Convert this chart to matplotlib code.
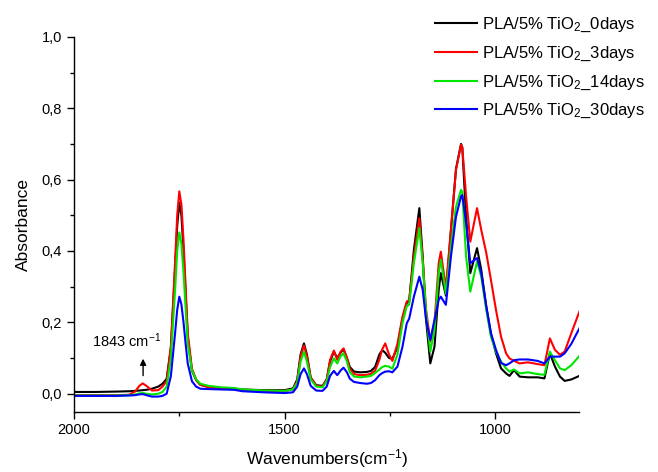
import matplotlib
matplotlib.use("Agg")
import matplotlib.pyplot as plt
from matplotlib.ticker import MultipleLocator, FuncFormatter

plt.rcParams['font.family'] = ['Liberation Sans', 'DejaVu Sans']
plt.rcParams['mathtext.fontset'] = 'custom'
plt.rcParams['mathtext.rm'] = 'Liberation Sans'
plt.rcParams['mathtext.it'] = 'Liberation Sans:italic'

# FTIR spectra of PLA/5% TiO2 after degradation
wavenumber = [2000, 1950, 1900, 1870, 1855, 1845, 1837, 1828, 1815, 1800, 1790, 1780,
              1770, 1760, 1755, 1750, 1745, 1740, 1735, 1730, 1720, 1710, 1700, 1680,
              1650, 1620, 1600, 1550, 1500, 1480, 1470, 1462, 1454, 1447, 1438, 1425,
              1410, 1400, 1392, 1383, 1375, 1367, 1360, 1352, 1345, 1335, 1320, 1305,
              1295, 1285, 1275, 1268, 1261, 1252, 1244, 1232, 1220, 1210, 1204, 1193,
              1180, 1172, 1164, 1154, 1144, 1134, 1129, 1117, 1105, 1093, 1081, 1078,
              1069, 1059, 1043, 1033, 1021, 1010, 998, 986, 974, 966, 955, 942,
              922, 899, 883, 870, 858, 846, 835, 819, 800]

abs_0d = [0.005, 0.005, 0.006, 0.007, 0.008, 0.009, 0.010, 0.011, 0.014, 0.020, 0.028, 0.042,
          0.13, 0.35, 0.47, 0.535, 0.50, 0.40, 0.28, 0.16, 0.065, 0.038, 0.025, 0.019,
          0.016, 0.014, 0.012, 0.010, 0.010, 0.015, 0.04, 0.11, 0.141, 0.11, 0.045, 0.024,
          0.022, 0.04, 0.09, 0.118, 0.10, 0.115, 0.125, 0.10, 0.075, 0.062, 0.060, 0.061,
          0.064, 0.075, 0.11, 0.122, 0.115, 0.10, 0.098, 0.13, 0.21, 0.254, 0.26, 0.403,
          0.52, 0.384, 0.207, 0.085, 0.132, 0.291, 0.338, 0.275, 0.459, 0.63, 0.700, 0.69,
          0.496, 0.338, 0.408, 0.347, 0.244, 0.169, 0.113, 0.071, 0.057, 0.050, 0.066, 0.048,
          0.046, 0.046, 0.043, 0.113, 0.076, 0.048, 0.036, 0.040, 0.050]

abs_3d = [-0.004, -0.004, -0.004, -0.003, 0.006, 0.022, 0.029, 0.022, 0.009, 0.010, 0.020, 0.035,
          0.13, 0.37, 0.50, 0.567, 0.53, 0.43, 0.30, 0.17, 0.07, 0.04, 0.025, 0.018,
          0.016, 0.014, 0.010, 0.008, 0.008, 0.012, 0.035, 0.105, 0.135, 0.105, 0.045, 0.022,
          0.020, 0.04, 0.095, 0.121, 0.095, 0.118, 0.127, 0.10, 0.07, 0.055, 0.052, 0.053,
          0.056, 0.065, 0.095, 0.125, 0.141, 0.11, 0.092, 0.14, 0.216, 0.258, 0.263, 0.384,
          0.492, 0.375, 0.235, 0.146, 0.198, 0.366, 0.398, 0.296, 0.459, 0.627, 0.698, 0.69,
          0.553, 0.426, 0.52, 0.459, 0.394, 0.319, 0.235, 0.160, 0.113, 0.099, 0.092, 0.085,
          0.088, 0.083, 0.080, 0.155, 0.123, 0.109, 0.118, 0.17, 0.230]

abs_14d = [-0.005, -0.005, -0.005, -0.004, -0.002, 0.001, 0.002, 0.000, -0.002, 0.000, 0.005, 0.020,
           0.10, 0.29, 0.40, 0.452, 0.42, 0.34, 0.24, 0.14, 0.065, 0.04, 0.028, 0.022,
           0.018, 0.016, 0.012, 0.009, 0.008, 0.012, 0.032, 0.09, 0.118, 0.09, 0.04, 0.020,
           0.018, 0.035, 0.075, 0.099, 0.085, 0.105, 0.113, 0.09, 0.06, 0.048, 0.046, 0.048,
           0.050, 0.058, 0.068, 0.075, 0.078, 0.076, 0.070, 0.11, 0.198, 0.245, 0.25, 0.366,
           0.464, 0.366, 0.226, 0.118, 0.179, 0.338, 0.375, 0.28, 0.412, 0.524, 0.571, 0.565,
           0.384, 0.286, 0.370, 0.328, 0.235, 0.160, 0.118, 0.090, 0.071, 0.062, 0.068, 0.057,
           0.060, 0.055, 0.053, 0.118, 0.094, 0.071, 0.066, 0.080, 0.106]

abs_30d = [-0.006, -0.006, -0.006, -0.005, -0.004, -0.002, -0.001, -0.004, -0.008, -0.008, -0.006, 0.000,
           0.05, 0.17, 0.235, 0.272, 0.25, 0.20, 0.14, 0.085, 0.035, 0.02, 0.014, 0.013,
           0.012, 0.011, 0.007, 0.004, 0.002, 0.004, 0.02, 0.055, 0.071, 0.055, 0.022, 0.009,
           0.008, 0.02, 0.05, 0.064, 0.052, 0.065, 0.073, 0.06, 0.042, 0.033, 0.030, 0.028,
           0.030, 0.038, 0.052, 0.058, 0.062, 0.063, 0.060, 0.076, 0.132, 0.197, 0.211, 0.272,
           0.328, 0.291, 0.207, 0.151, 0.207, 0.263, 0.272, 0.249, 0.384, 0.496, 0.553, 0.557,
           0.478, 0.366, 0.38, 0.338, 0.244, 0.169, 0.123, 0.086, 0.080, 0.085, 0.094, 0.096,
           0.096, 0.092, 0.085, 0.104, 0.104, 0.104, 0.113, 0.140, 0.183]

labels = ['PLA/5% TiO$_2$_0days', 'PLA/5% TiO$_2$_3days',
          'PLA/5% TiO$_2$_14days', 'PLA/5% TiO$_2$_30days']
colors = ['black', 'red', '#00e600', 'blue']
series = [abs_0d, abs_3d, abs_14d, abs_30d]

fig = plt.figure(figsize=(6.58, 4.72), dpi=100)
ax = fig.add_axes([0.1125, 0.128, 0.768, 0.794])

for y, lab, c in zip(series, labels, colors):
    ax.plot(wavenumber, y, color=c, lw=1.5, label=lab)

ax.set_xlim(2000, 800)
ax.set_ylim(-0.05, 1.0)
ax.xaxis.set_major_locator(MultipleLocator(500))
ax.xaxis.set_minor_locator(MultipleLocator(250))
ax.yaxis.set_major_locator(MultipleLocator(0.2))
ax.yaxis.set_minor_locator(MultipleLocator(0.1))
ax.yaxis.set_major_formatter(FuncFormatter(lambda v, p: f'{v:.1f}'.replace('.', ',')))

for side in ['top', 'right']:
    ax.spines[side].set_visible(False)
for side in ['left', 'bottom']:
    ax.spines[side].set_linewidth(1.0)
ax.tick_params(which='major', direction='out', length=5, width=1, labelsize=10.5)
ax.tick_params(which='minor', direction='out', length=3, width=1)

ax.set_xlabel('Wavenumbers(cm$^{-1}$)', fontsize=12.5, labelpad=7)
ax.set_ylabel('Absorbance', fontsize=12.5, labelpad=8)

# mark the small carbonyl band of the 3-day sample
ax.annotate('', xy=(1836, 0.106), xytext=(1836, 0.043),
            arrowprops=dict(arrowstyle='-|>', color='black', lw=1, mutation_scale=9))
ax.text(1957, 0.13, '1843 cm$^{-1}$', fontsize=10.5, ha='left', va='baseline')

fig.legend(loc='upper left', bbox_to_anchor=(0.661, 0.966), frameon=False,
           fontsize=12, handlelength=2.5, handletextpad=0.3, labelspacing=0.62,
           borderpad=0, borderaxespad=0)

fig.savefig('out.png', dpi=100)
